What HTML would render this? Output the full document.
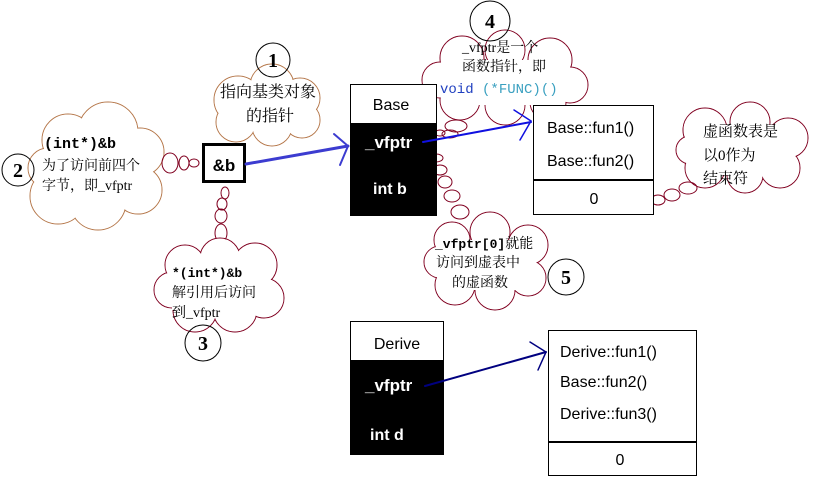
<!DOCTYPE html>
<html><head><meta charset="utf-8"><style>
body{margin:0;background:#fff;width:818px;height:493px;overflow:hidden}
svg{display:block}
.cj{font-family:"Liberation Serif","Noto Serif CJK SC","Noto Sans CJK SC",serif;font-size:14px}
.sg{font-family:"Liberation Sans","DejaVu Sans",sans-serif}
.mo{font-family:"Liberation Mono","DejaVu Sans Mono",monospace}
.num{font-family:"Liberation Serif",serif;font-size:20px}
</style></head><body>
<svg width="818" height="493" viewBox="0 0 818 493" xmlns="http://www.w3.org/2000/svg">
<!-- cloud 1 -->
<g stroke="#b5774a" stroke-width="1" fill="none">
<circle cx="238" cy="100" r="24"/><circle cx="272" cy="86" r="22"/><circle cx="300" cy="98" r="20"/><circle cx="302" cy="120" r="18"/><circle cx="272" cy="126" r="20"/><circle cx="236" cy="122" r="20"/>
</g>
<g fill="#fff"><circle cx="238" cy="100" r="23.5"/><circle cx="272" cy="86" r="21.5"/><circle cx="300" cy="98" r="19.5"/><circle cx="302" cy="120" r="17.5"/><circle cx="272" cy="126" r="19.5"/><circle cx="236" cy="122" r="19.5"/><rect x="230" y="90" width="70" height="38"/></g>
<!-- cloud 2 -->
<g stroke="#b5774a" stroke-width="1" fill="none">
<circle cx="68" cy="140" r="26"/><circle cx="108" cy="132" r="30"/><circle cx="140" cy="152" r="24"/><circle cx="138" cy="190" r="24"/><circle cx="98" cy="202" r="28"/><circle cx="58" cy="196" r="28"/><circle cx="48" cy="168" r="20"/>
</g>
<g fill="#fff"><circle cx="68" cy="140" r="25.5"/><circle cx="108" cy="132" r="29.5"/><circle cx="140" cy="152" r="23.5"/><circle cx="138" cy="190" r="23.5"/><circle cx="98" cy="202" r="27.5"/><circle cx="58" cy="196" r="27.5"/><circle cx="48" cy="168" r="19.5"/><rect x="50" y="140" width="100" height="60"/></g>
<g stroke="#800020" fill="none"><ellipse cx="170" cy="163" rx="8" ry="10"/><ellipse cx="184" cy="163" rx="5" ry="7"/><ellipse cx="194" cy="163" rx="5" ry="4"/><ellipse cx="207" cy="163" rx="3" ry="3"/>
<ellipse cx="225" cy="193" rx="4" ry="6"/><ellipse cx="222" cy="204" rx="5" ry="6"/><ellipse cx="221" cy="216" rx="6" ry="7"/><ellipse cx="221" cy="233" rx="6" ry="9"/></g>
<!-- cloud 3 -->
<g stroke="#800020" fill="none">
<circle cx="185" cy="265" r="20"/><circle cx="220" cy="258" r="20"/><circle cx="255" cy="265" r="22"/><circle cx="264" cy="298" r="20"/><circle cx="235" cy="310" r="22"/><circle cx="195" cy="310" r="22"/><circle cx="172" cy="290" r="18"/>
</g>
<g fill="#fff"><circle cx="185" cy="265" r="19.5"/><circle cx="220" cy="258" r="19.5"/><circle cx="255" cy="265" r="21.5"/><circle cx="264" cy="298" r="19.5"/><circle cx="235" cy="310" r="21.5"/><circle cx="195" cy="310" r="21.5"/><circle cx="172" cy="290" r="17.5"/><rect x="172" y="265" width="90" height="45"/></g>
<!-- cloud 4 -->
<g stroke="#800020" fill="none">
<circle cx="462" cy="58" r="22"/><circle cx="505" cy="50" r="20"/><circle cx="550" cy="60" r="22"/><circle cx="570" cy="85" r="18"/><circle cx="548" cy="102" r="18"/><circle cx="505" cy="105" r="20"/><circle cx="460" cy="100" r="20"/><circle cx="440" cy="80" r="18"/>
</g>
<g fill="#fff"><circle cx="462" cy="58" r="21.5"/><circle cx="505" cy="50" r="19.5"/><circle cx="550" cy="60" r="21.5"/><circle cx="570" cy="85" r="17.5"/><circle cx="548" cy="102" r="17.5"/><circle cx="505" cy="105" r="19.5"/><circle cx="460" cy="100" r="19.5"/><circle cx="440" cy="80" r="17.5"/><rect x="450" y="60" width="110" height="45"/></g>
<!-- cloud R -->
<g stroke="#800020" fill="none">
<circle cx="705" cy="130" r="22"/><circle cx="750" cy="122" r="20"/><circle cx="788" cy="138" r="20"/><circle cx="780" cy="168" r="20"/><circle cx="745" cy="175" r="18"/><circle cx="705" cy="168" r="20"/><circle cx="690" cy="150" r="14"/>
</g>
<g fill="#fff"><circle cx="705" cy="130" r="21.5"/><circle cx="750" cy="122" r="19.5"/><circle cx="788" cy="138" r="19.5"/><circle cx="780" cy="168" r="19.5"/><circle cx="745" cy="175" r="17.5"/><circle cx="705" cy="168" r="19.5"/><circle cx="690" cy="150" r="13.5"/><rect x="700" y="125" width="85" height="50"/></g>
<g stroke="#800020" fill="none"><ellipse cx="688" cy="188" rx="9" ry="6"/><ellipse cx="672" cy="195" rx="8" ry="6"/><ellipse cx="658" cy="200" rx="7" ry="5"/><ellipse cx="645" cy="205" rx="5" ry="3"/></g>
<!-- cloud 5 -->
<g stroke="#800020" fill="none">
<circle cx="452" cy="240" r="18"/><circle cx="490" cy="232" r="20"/><circle cx="528" cy="245" r="20"/><circle cx="528" cy="278" r="18"/><circle cx="495" cy="290" r="20"/><circle cx="455" cy="285" r="20"/><circle cx="440" cy="262" r="16"/>
</g>
<g fill="#fff"><circle cx="452" cy="240" r="17.5"/><circle cx="490" cy="232" r="19.5"/><circle cx="528" cy="245" r="19.5"/><circle cx="528" cy="278" r="17.5"/><circle cx="495" cy="290" r="19.5"/><circle cx="455" cy="285" r="19.5"/><circle cx="440" cy="262" r="15.5"/><rect x="445" y="240" width="90" height="50"/></g>
<g stroke="#800020" fill="none"><ellipse cx="456" cy="126" rx="11" ry="6"/><ellipse cx="450" cy="134" rx="8" ry="4"/><ellipse cx="440" cy="133" rx="5" ry="3"/>
<ellipse cx="436" cy="158" rx="7" ry="4"/><ellipse cx="440" cy="170" rx="7" ry="5"/><ellipse cx="445" cy="182" rx="7" ry="6"/><ellipse cx="452" cy="196" rx="8" ry="6"/><ellipse cx="460" cy="212" rx="9" ry="7"/></g>

<g stroke="#000" fill="none"><circle cx="273" cy="60" r="17"/><circle cx="18" cy="170" r="16"/><circle cx="203" cy="343" r="18"/><circle cx="490" cy="21" r="20"/><circle cx="566" cy="277" r="18"/></g>
<g text-anchor="middle" font-weight="bold"><text class="num" x="273" y="67">1</text><text class="num" x="18" y="177">2</text><text class="num" x="203" y="350">3</text><text class="num" x="490" y="28">4</text><text class="num" x="566" y="284">5</text></g>

<text class="cj" x="268" y="97" text-anchor="middle" style="font-size:16px">指向基类对象</text>
<text class="cj" x="270" y="121" text-anchor="middle" style="font-size:16px">的指针</text>
<text class="mo" x="44" y="148" font-weight="bold" font-size="15">(int*)&amp;b</text>
<text class="cj" x="42" y="170">为了访问前四个</text>
<text class="cj" x="42" y="190">字节，即_vfptr</text>
<text class="mo" x="172" y="277" font-weight="bold" font-size="13">*(int*)&amp;b</text>
<text class="cj" x="172" y="297">解引用后访问</text>
<text class="cj" x="172" y="317">到_vfptr</text>
<text class="cj" x="462" y="52">_vfptr是一个</text>
<text class="cj" x="462" y="71">函数指针，即</text>
<text class="mo" x="440" y="93" font-size="14" fill="#2040c0">void <tspan fill="#3aa0c0">(*FUNC)()</tspan></text>
<text class="cj" x="703" y="136" style="font-size:15px">虚函数表是</text>
<text class="cj" x="703" y="160" style="font-size:15px">以0作为</text>
<text class="cj" x="703" y="183" style="font-size:15px">结束符</text>
<text class="mo" x="435" y="248" font-weight="bold" font-size="13">_vfptr[0]<tspan class="cj" font-weight="normal">就能</tspan></text>
<text class="cj" x="436" y="267">访问到虚表中</text>
<text class="cj" x="452" y="287">的虚函数</text>

<rect x="203.5" y="144.5" width="41" height="37" fill="#fff" stroke="#000" stroke-width="3"/>
<text class="sg" x="224" y="171" text-anchor="middle" font-weight="bold" font-size="17">&amp;b</text>

<rect x="350.5" y="84.5" width="86" height="131" fill="#fff" stroke="#000"/>
<rect x="350" y="123" width="87" height="93" fill="#000"/>
<text class="sg" x="391" y="110" text-anchor="middle" font-size="16">Base</text>
<text class="sg" x="365" y="148" fill="#fff" font-weight="bold" font-size="17">_vfptr</text>
<text class="sg" x="373" y="194" fill="#fff" font-weight="bold" font-size="16">int b</text>

<rect x="533.5" y="105.5" width="120" height="109" fill="#fff" stroke="#000"/>
<line x1="533" y1="180" x2="654" y2="180" stroke="#000" stroke-width="2"/>
<text class="sg" x="547" y="133" font-size="16">Base::fun1()</text>
<text class="sg" x="547" y="166" font-size="16">Base::fun2()</text>
<text class="sg" x="594" y="204" text-anchor="middle" font-size="16">0</text>

<rect x="350.5" y="321.5" width="93" height="133" fill="#fff" stroke="#000"/>
<rect x="350" y="360" width="94" height="95" fill="#000"/>
<text class="sg" x="397" y="349" text-anchor="middle" font-size="16">Derive</text>
<text class="sg" x="365" y="391" fill="#fff" font-weight="bold" font-size="17">_vfptr</text>
<text class="sg" x="370" y="440" fill="#fff" font-weight="bold" font-size="16">int d</text>

<rect x="548.5" y="330.5" width="148" height="145" fill="#fff" stroke="#000"/>
<line x1="548" y1="442" x2="697" y2="442" stroke="#000" stroke-width="2"/>
<text class="sg" x="560" y="357" font-size="16">Derive::fun1()</text>
<text class="sg" x="560" y="387" font-size="16">Base::fun2()</text>
<text class="sg" x="560" y="419" font-size="16">Derive::fun3()</text>
<text class="sg" x="620" y="465" text-anchor="middle" font-size="16">0</text>

<g fill="none" stroke-linecap="round">
<line x1="246" y1="164" x2="348" y2="146" stroke="#3c3cd0" stroke-width="3"/>
<polyline points="334,134 348,146 340,165" stroke="#3c3cd0" stroke-width="2"/>
<line x1="423" y1="142" x2="531" y2="122" stroke="#1010e0" stroke-width="2"/>
<polyline points="514,110 531,121 520,140" stroke="#1010e0" stroke-width="1.5"/>
<line x1="425" y1="386" x2="546" y2="352" stroke="#000080" stroke-width="2"/>
<polyline points="530,342 546,352 538,370" stroke="#000080" stroke-width="1.5"/>
</g>
</svg>
</body></html>
